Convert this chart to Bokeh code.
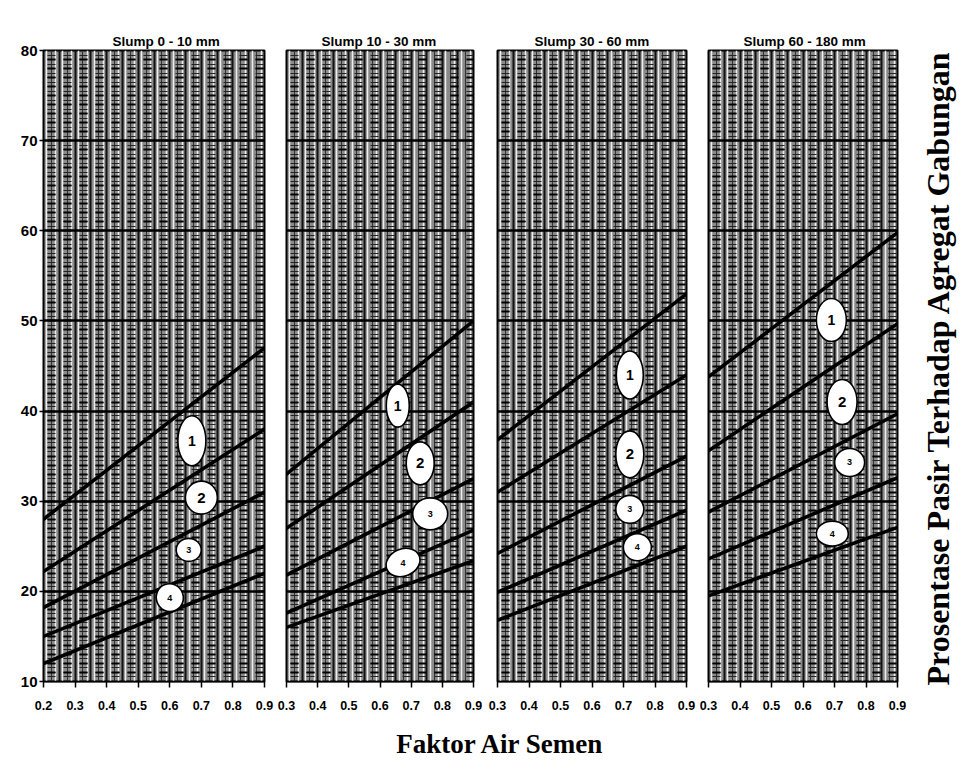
import numpy as np
from bokeh.plotting import figure
from bokeh.layouts import row, column
from bokeh.models import (Grid, SingleIntervalTicker, FixedTicker, Label,
                          ColumnDataSource, Range1d)
from bokeh.core.properties import value
from bokeh.embed import file_html
from bokeh.resources import INLINE

# ---------------- data ----------------
titles = ["Slump 0 - 10 mm", "Slump 10 - 30 mm", "Slump 30 - 60 mm", "Slump 60 - 180 mm"]
x_start = [0.2, 0.3, 0.3, 0.3]
x_end = 0.9
x_ticks_p1 = [0.2, 0.3, 0.4, 0.5, 0.6, 0.7, 0.8, 0.9]
x_ticks_other = [0.3, 0.4, 0.5, 0.6, 0.7, 0.8, 0.9]
y_ticks = [10, 20, 30, 40, 50, 60, 70, 80]
y_min, y_max = 10, 80

# curve values at left end (x_start) and right end (0.9), curves 1..5 top to bottom
left_p1 = [28.0, 22.2, 18.2, 15.0, 12.0]
right_p1 = [47.0, 38.0, 31.0, 25.0, 22.0]
left_p2 = [33.0, 27.0, 21.8, 17.6, 16.0]
right_p2 = [50.0, 41.0, 32.5, 26.8, 23.4]
left_p3 = [36.8, 31.0, 24.2, 19.9, 16.8]
right_p3 = [53.0, 44.0, 35.0, 29.0, 25.0]
left_p4 = [43.8, 35.6, 28.8, 23.6, 19.5]
right_p4 = [59.8, 49.7, 39.7, 32.6, 27.1]

# circled zone labels
zone_text = ["1", "2", "3", "4"]
zone_x_p1 = [0.67, 0.70, 0.66, 0.60]
zone_y_p1 = [36.7, 30.4, 24.6, 19.3]
zone_x_p2 = [0.657, 0.729, 0.761, 0.674]
zone_y_p2 = [40.6, 34.2, 28.6, 23.2]
zone_x_p3 = [0.72, 0.72, 0.72, 0.744]
zone_y_p3 = [44.0, 35.2, 29.1, 24.9]
zone_x_p4 = [0.69, 0.724, 0.748, 0.693]
zone_y_p4 = [50.1, 41.0, 34.3, 26.4]

panels = [
    (left_p1, right_p1, zone_x_p1, zone_y_p1),
    (left_p2, right_p2, zone_x_p2, zone_y_p2),
    (left_p3, right_p3, zone_x_p3, zone_y_p3),
    (left_p4, right_p4, zone_x_p4, zone_y_p4),
]

# ---------------- style ----------------
ell_w = [[28, 32, 25, 27], [23, 28, 35, 35], [27, 28, 28, 28], [30, 30, 30, 32]]
ell_h = [[50, 33, 23, 28], [43, 43, 32, 27], [48, 47, 28, 27], [43, 45, 28, 25]]
ell_a = [[0, 0, 0, 0.35], [0, 0, 0, 0.4], [0, 0, 0, 0], [0, 0, 0, 0]]
num_fs = ["14px", "15px", "9px", "9px"]

fig_w = [275, 210, 212, 211]
b_left = [43, 11, 12, 11]
b_right = [11, 12, 11, 11]
title_offset = [69, 35, 37, 35]
ROW_H = 718
B_TOP = 50
B_BOTTOM = 37
SANS = "Liberation Sans"

figs = []
for i in range(4):
    xs = x_start[i]
    p = figure(width=fig_w[i], height=ROW_H, x_range=Range1d(xs, x_end),
               y_range=Range1d(y_min, y_max), output_backend="svg",
               toolbar_location=None, min_border_left=b_left[i],
               min_border_right=b_right[i], min_border_top=B_TOP,
               min_border_bottom=B_BOTTOM,
               y_axis_location="left" if i == 0 else None,
               background_fill_color="#8a8a8a", border_fill_color="white",
               outline_line_color="black", outline_line_width=2)
    p.xgrid.visible = False
    p.ygrid.visible = False

    # graph-paper texture
    col_edges = np.arange(xs, x_end + 1e-9, 0.05)
    white_ticks = sorted([round(float(v + d), 4) for v in col_edges for d in (-0.011, 0.011)])
    mid_ticks = [round(float(v + 0.025), 4) for v in col_edges[:-1]]
    p.add_layout(Grid(dimension=0, ticker=FixedTicker(ticks=white_ticks),
                      grid_line_color="#eeeeee", grid_line_width=1.5))
    p.add_layout(Grid(dimension=0, ticker=FixedTicker(ticks=mid_ticks),
                      grid_line_color="#333333", grid_line_width=1))
    p.add_layout(Grid(dimension=0, ticker=FixedTicker(ticks=[round(float(v), 4) for v in col_edges]),
                      grid_line_color="#111111", grid_line_width=2))
    p.add_layout(Grid(dimension=1, ticker=SingleIntervalTicker(interval=0.5),
                      grid_line_color="#222222", grid_line_width=1,
                      grid_line_dash="8 8", grid_line_dash_offset=12))
    p.add_layout(Grid(dimension=1, ticker=SingleIntervalTicker(interval=1),
                      grid_line_color="black", grid_line_width=2.2,
                      grid_line_dash="8 8", grid_line_dash_offset=12))
    p.add_layout(Grid(dimension=1, ticker=FixedTicker(ticks=y_ticks),
                      grid_line_color="black", grid_line_width=2.6))

    left_v, right_v, zx, zy = panels[i]
    src = ColumnDataSource(dict(x0=[xs] * len(left_v), y0=left_v,
                                x1=[x_end] * len(right_v), y1=right_v))
    p.segment(x0="x0", y0="y0", x1="x1", y1="y1", source=src,
              line_color="black", line_width=3.6, line_cap="round")

    zsrc = ColumnDataSource(dict(x=zx, y=zy, w=ell_w[i], h=ell_h[i], a=ell_a[i],
                                 t=zone_text, fs=num_fs))
    p.ellipse(x="x", y="y", width="w", height="h", angle="a", source=zsrc,
              width_units="screen", height_units="screen",
              fill_color="white", line_color="black", line_width=1.6)
    p.text(x="x", y="y", text="t", source=zsrc, text_font=value(SANS),
           text_font_style="bold", text_font_size="fs", text_color="black",
           text_align="center", text_baseline="middle")

    # title
    p.title.text = titles[i]
    p.title.align = "left"
    p.title.offset = title_offset[i]
    p.title.standoff = 3
    p.title.text_font = SANS
    p.title.text_font_size = "13.5px"
    p.title.text_font_style = "bold"
    p.title.text_color = "black"

    # x axis
    ax = p.xaxis[0]
    ax.ticker = FixedTicker(ticks=x_ticks_p1 if i == 0 else x_ticks_other)
    ax.major_label_text_font = SANS
    ax.major_label_text_font_style = "bold"
    ax.major_label_text_font_size = "12.5px"
    ax.major_label_text_color = "black"
    ax.major_label_standoff = 13
    ax.major_tick_out = 6
    ax.major_tick_in = 0
    ax.minor_tick_line_color = None
    ax.axis_line_width = 1.5
    ax.major_tick_line_width = 1.5

    if i == 0:
        ay = p.yaxis[0]
        ay.ticker = FixedTicker(ticks=y_ticks)
        ay.major_label_text_font = SANS
        ay.major_label_text_font_style = "bold"
        ay.major_label_text_font_size = "15px"
        ay.major_label_text_color = "black"
        ay.major_label_standoff = 2
        ay.major_tick_out = 4
        ay.major_tick_in = 0
        ay.minor_tick_line_color = None
        ay.axis_line_color = None
        ay.major_tick_line_width = 1.5
    figs.append(p)

# right-hand axis title
f5 = figure(width=53, height=ROW_H, min_border=0, x_axis_location=None,
            y_axis_location=None, outline_line_color=None, toolbar_location=None,
            output_backend="svg", background_fill_color="white", border_fill_color="white")
f5.frame_align = False
f5.grid.visible = False
f5.add_layout(Label(x=29, y=351, x_units="screen", y_units="screen",
                    text="Prosentase Pasir Terhadap Agregat Gabungan",
                    angle=90, angle_units="deg", text_align="center", text_baseline="middle",
                    text_font="Liberation Serif", text_font_style="bold",
                    text_font_size="32px", text_color="black"))

# bottom axis title
fb = figure(width=961, height=41, min_border=0, x_axis_location=None,
            y_axis_location=None, outline_line_color=None, toolbar_location=None,
            output_backend="svg", background_fill_color="white", border_fill_color="white")
fb.frame_align = False
fb.grid.visible = False
fb.add_layout(Label(x=500, y=16, x_units="screen", y_units="screen",
                    text="Faktor Air Semen", text_align="center", text_baseline="middle",
                    text_font="Liberation Serif", text_font_style="bold",
                    text_font_size="27px", text_color="black"))

layout = column(row(*figs, f5, spacing=0), fb, spacing=0)
open("out.html", "w").write(file_html(layout, INLINE))
